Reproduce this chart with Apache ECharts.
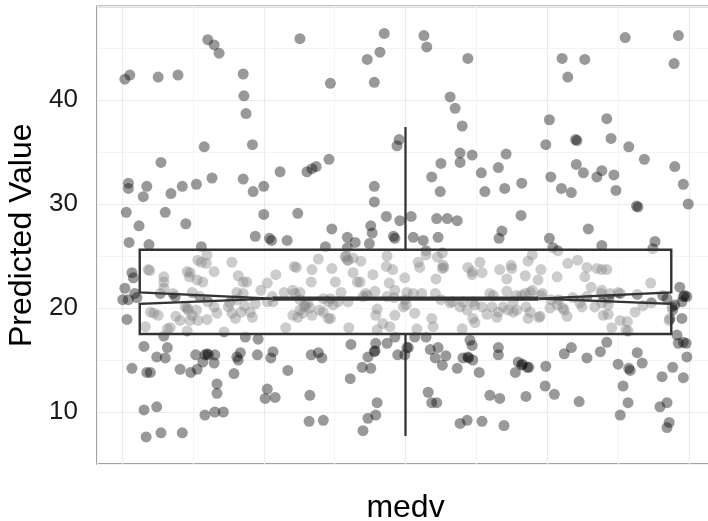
<!DOCTYPE html>
<html><head><meta charset="utf-8">
<script src="https://cdn.jsdelivr.net/npm/echarts@6/dist/echarts.min.js"></script>
<style>html,body{margin:0;padding:0;background:#fff}#c{width:708px;height:521px}</style>
</head><body><div id="c"></div>
<script>
const xName = 'medv';
const yName = 'Predicted Value';
const yTickLabels = [10, 20, 30, 40];
const whiskerEnds = [7.7, 37.4];
const hinges = [17.5, 25.6];
const medianValue = [20.9];
const notchEnds = [20.4, 21.5];
const boxCenter = [1.0];
const boxWidth = [0.75];
// jittered points: [x position, predicted value]
const points = [
[0.604,42.0],[0.611,42.4],[0.651,42.2],[0.679,42.4],[0.721,45.8],[0.730,45.3],[0.737,44.5],[0.771,42.5],[0.772,40.4],[0.775,38.7],
[0.851,45.9],[0.894,41.6],[0.946,43.9],[0.964,44.6],[0.970,46.4],[0.956,41.7],[0.716,35.5],[0.784,35.7],[0.655,34.0],[0.609,32.0],
[0.609,31.5],[0.635,31.7],[0.630,30.7],[0.669,31.0],[0.685,31.7],[0.705,31.9],[0.727,32.5],[0.771,32.4],[0.785,31.2],[0.800,31.7],
[0.823,33.1],[0.861,33.1],[0.868,33.4],[0.874,33.6],[0.892,34.3],[0.988,35.6],[0.991,36.2],[0.956,31.7],[0.956,30.2],[0.606,29.2],
[0.661,29.2],[0.624,27.9],[0.690,28.1],[0.800,29.0],[0.848,29.1],[0.973,28.8],[0.992,28.4],[0.896,27.6],[0.951,27.9],[0.953,27.2],
[0.610,26.3],[0.788,26.9],[0.808,26.7],[0.811,26.5],[0.833,26.5],[0.918,26.8],[0.983,26.9],[0.985,26.7],[0.929,26.3],[0.638,26.1],
[0.712,25.9],[0.887,25.9],[0.949,26.2],[0.918,25.8],[0.915,24.9],[0.918,24.6],
[0.637,23.7],[0.639,23.6],[0.659,23.0],[0.659,22.5],[0.692,23.5],[0.696,23.4],[0.695,23.0],[0.707,24.6],[0.712,24.4],[0.720,25.1],
[0.719,24.3],[0.730,23.5],[0.714,22.5],[0.706,22.7],[0.755,24.4],[0.764,23.1],[0.771,22.5],[0.776,22.5],[0.762,21.5],[0.771,21.4],
[0.796,21.7],[0.805,22.4],[0.817,23.2],[0.829,21.5],[0.841,21.7],[0.844,21.4],[0.851,21.5],[0.843,24.0],[0.846,23.9],[0.867,22.5],
[0.868,23.7],[0.877,24.7],[0.896,23.8],[0.901,22.5],[0.909,21.5],[0.916,25.0],[0.919,24.6],[0.926,24.8],[0.937,24.5],[0.926,23.4],
[0.932,22.5],[0.936,22.5],[0.954,23.2],[0.974,25.0],[0.973,24.0],[0.982,23.7],[0.977,22.4],[0.985,21.7],[0.999,22.9],[0.957,21.6],
[0.946,21.2],[0.940,21.1],[0.812,21.1],[0.805,20.6],[0.813,20.6],[0.762,20.8],[0.750,20.1],[0.752,20.5],[0.788,20.4],[0.781,19.6],
[0.784,19.1],[0.768,19.6],[0.734,19.5],[0.720,18.9],[0.707,18.8],[0.699,19.3],[0.696,18.8],[0.682,18.8],[0.692,20.0],[0.693,19.8],
[0.689,20.1],[0.640,19.6],[0.645,19.5],[0.651,19.3],[0.668,18.1],[0.692,17.8],[0.633,18.2],[0.672,21.4],[0.675,21.1],[0.699,21.5],
[0.710,21.1],[0.721,20.6],[0.744,17.7],[0.831,18.1],[0.841,19.3],[0.848,19.1],[0.855,19.5],[0.868,19.3],[0.879,19.8],[0.891,19.0],
[0.898,20.3],[0.905,20.6],[0.919,20.6],[0.920,18.1],[0.851,20.8],[0.858,20.3],[0.862,20.5],[0.865,20.0],[0.894,20.9],[0.884,20.9],
[0.960,19.9],[0.968,18.5],[0.960,17.9],[0.978,18.2],[0.985,19.3],[0.997,20.1],[0.999,20.8],
[0.659,21.9],[0.654,21.4],[0.944,21.4],[0.974,21.1],[0.984,21.0],[0.958,19.3],[0.851,19.8],[0.858,20.1],[0.884,19.6],[0.894,19.0],
[0.891,20.6],[0.664,18.0],[0.676,19.2],[0.705,19.8],[0.730,20.1],[0.755,19.5],[0.760,19.0],[0.773,20.2],
[0.614,23.4],[0.616,22.9],[0.604,21.9],[0.601,20.8],[0.607,18.9],[0.609,20.8],[0.621,21.0],[0.618,21.4],[0.631,16.3],[0.664,16.2],
[0.661,15.2],[0.649,15.3],[0.614,14.2],[0.635,13.8],[0.640,13.8],[0.659,17.3],[0.682,14.1],[0.697,13.8],[0.706,14.1],[0.704,15.5],
[0.720,15.6],[0.722,15.5],[0.717,15.5],[0.731,15.5],[0.730,14.7],[0.714,14.8],[0.734,12.7],[0.734,11.8],[0.717,9.7],[0.731,10.0],
[0.743,10.0],[0.758,13.7],[0.762,15.3],[0.764,15.0],[0.767,15.7],[0.774,17.2],[0.792,17.0],[0.791,15.5],[0.813,15.8],[0.810,15.2],
[0.834,14.0],[0.805,12.2],[0.802,11.3],[0.816,11.4],[0.865,11.6],[0.864,9.1],[0.884,9.2],[0.867,15.5],[0.877,15.7],[0.882,15.2],
[0.923,16.5],[0.922,13.2],[0.939,14.3],[0.951,14.2],[0.947,15.3],[0.956,15.8],[0.957,15.9],[0.958,16.6],[0.960,10.9],[0.958,9.7],
[0.947,9.4],[0.940,8.2],[0.974,16.6],[0.985,17.2],[0.989,15.5],[0.999,15.5],[1.004,16.2],[0.631,10.2],[0.649,10.5],[0.634,7.6],
[0.655,8.0],[0.685,8.0],
[1.026,46.2],[1.030,45.1],[1.088,44.0],[1.221,44.0],[1.253,43.9],[1.229,42.2],[1.310,46.0],[1.385,46.2],[1.379,43.5],[1.063,40.3],
[1.070,39.2],[1.080,37.5],[1.203,38.1],[1.198,35.7],[1.240,36.2],[1.242,36.1],[1.284,38.2],[1.290,36.3],[1.315,35.5],[1.337,34.3],
[1.380,33.6],[1.392,31.9],[1.399,30.0],[1.077,34.9],[1.077,34.0],[1.094,34.7],[1.050,33.9],[1.037,32.6],[1.049,31.2],[1.107,33.0],
[1.131,33.5],[1.142,34.8],[1.112,31.2],[1.140,31.5],[1.164,32.0],[1.205,32.6],[1.220,31.5],[1.234,31.1],[1.241,33.8],[1.251,33.0],
[1.270,32.6],[1.277,33.2],[1.294,32.8],[1.297,31.3],[1.326,29.8],[1.328,29.7],[1.008,28.8],[1.044,28.6],[1.059,28.6],[1.073,28.4],
[1.163,28.9],[1.136,27.4],[1.132,26.7],[1.011,26.8],[1.025,26.5],[1.046,26.8],[1.203,26.7],[1.258,27.6],[1.352,26.4],
[1.277,26.0],[1.349,25.7],[1.208,25.8],[1.215,25.5],[1.029,25.5],[1.052,25.3],
[1.018,24.4],[1.020,23.9],[1.045,24.9],[1.053,24.1],[1.052,23.8],[1.043,22.8],[1.088,23.9],[1.094,23.5],[1.094,23.2],[1.105,24.4],
[1.108,23.4],[1.133,23.7],[1.143,22.8],[1.149,24.1],[1.150,23.8],[1.169,23.1],[1.173,24.5],[1.179,25.1],[1.187,22.7],[1.191,23.7],
[1.214,23.0],[1.229,24.3],[1.243,24.6],[1.256,23.9],[1.253,23.0],[1.270,23.8],[1.277,23.7],[1.284,23.7],[1.262,22.0],[1.277,21.7],
[1.289,21.4],[1.303,21.4],[1.327,21.3],[1.346,22.4],[1.002,21.5],[1.011,21.4],[1.023,21.4],[1.042,21.4],[1.066,20.6],[1.081,20.6],
[1.098,20.3],[1.119,21.4],[1.124,21.2],[1.143,21.6],[1.152,20.6],[1.164,21.2],[1.176,21.5],[1.193,21.4],[1.204,20.0],[1.222,20.0],
[1.228,19.2],[1.249,20.1],[1.267,20.1],[1.277,20.5],[1.286,20.3],[1.286,19.4],[1.279,19.3],[1.335,20.2],[1.324,19.6],[1.001,20.3],
[1.013,19.5],[1.037,19.0],[1.039,18.2],[1.087,19.8],[1.095,19.0],[1.098,18.6],[1.115,19.4],[1.129,19.1],[1.131,19.6],[1.138,20.1],
[1.145,19.8],[1.152,19.6],[1.157,19.8],[1.173,19.0],[1.176,19.6],[1.190,19.2],[1.016,18.0],[1.080,18.0],[1.303,18.8],[1.313,18.7],
[1.291,18.1],[1.314,17.8],
[1.077,20.1],[1.108,20.1],[1.122,20.1],[1.170,20.1],[1.188,19.1],[1.214,20.3],[1.224,19.8],[1.095,20.6],[1.063,20.5],[1.050,20.8],
[1.156,21.2],[1.169,21.4],[1.179,21.7],[1.191,21.2],[1.205,20.8],[1.216,20.8],[1.236,21.0],[1.256,21.1],[1.246,20.5],[1.029,25.1],
[1.054,23.9],[1.276,21.4],[1.287,20.9],[1.300,21.5],[1.311,17.9],[1.347,20.5],
[1.387,22.0],[1.394,21.2],[1.392,21.1],[1.397,21.1],[1.390,20.6],[1.363,21.2],[1.369,20.9],[1.377,19.8],[1.390,19.0],[1.373,19.0],
[1.372,18.8],[1.380,20.3],[1.376,20.1],[1.383,17.4],[1.385,16.6],[1.392,16.7],[1.396,16.6],[1.397,15.3],[1.392,13.3],[1.377,14.3],
[1.362,13.4],
[1.013,17.2],[1.029,17.2],[1.002,16.2],[1.035,16.0],[1.046,16.2],[1.042,15.2],[1.052,14.5],[1.057,15.4],[1.073,14.2],[1.081,15.2],
[1.088,15.3],[1.089,15.2],[1.094,16.4],[1.095,15.0],[1.091,16.9],[1.104,13.8],[1.131,16.2],[1.131,15.5],[1.155,13.8],[1.159,14.8],
[1.164,14.5],[1.165,14.6],[1.172,14.3],[1.174,14.3],[1.198,14.4],[1.197,12.5],[1.210,11.7],[1.224,15.6],[1.234,16.2],[1.256,15.2],
[1.275,15.8],[1.284,16.7],[1.300,14.6],[1.315,14.2],[1.317,14.0],[1.327,15.7],[1.334,14.7],[1.307,12.5],[1.314,10.9],[1.303,9.7],
[1.119,11.6],[1.133,11.3],[1.170,11.5],[1.245,11.0],[1.032,11.9],[1.037,10.9],[1.044,10.9],[1.077,8.9],[1.087,9.2],[1.108,9.1],
[1.139,8.7],[1.359,10.5],[1.369,10.9],[1.372,9.0],[1.369,8.5]
];

const chart = echarts.init(document.getElementById('c'), null, {renderer: 'canvas'});
const boxRow = [boxCenter[0], boxWidth[0], whiskerEnds[0], hinges[0], notchEnds[0], medianValue[0], notchEnds[1], hinges[1], whiskerEnds[1]];
const option = {
  backgroundColor: '#ffffff',
  animation: false,
  grid: {left: 97, right: -6, top: 6.4, bottom: 57, show: true, borderColor: '#858585', borderWidth: 1.6, backgroundColor: '#ffffff',
    containLabel: false, outerBoundsMode: 'none'},
  xAxis: {
    type: 'value', min: 0.5647, max: 1.4353, splitNumber: 8,
    name: xName, nameLocation: 'middle', nameGap: 28,
    nameTextStyle: {fontFamily: 'Liberation Sans', fontSize: 32, color: '#000'},
    axisLine: {show: false}, axisTick: {show: false}, axisLabel: {show: false},
    splitLine: {show: true, lineStyle: {color: ['#f4f4f4', '#ebebeb'], width: 1.1}}
  },
  yAxis: {
    type: 'value', min: 5, max: 49, interval: 5,
    name: yName, nameLocation: 'middle', nameGap: 51, nameRotate: 90,
    nameTextStyle: {fontFamily: 'Liberation Sans', fontSize: 32, color: '#000'},
    axisLine: {show: false}, axisTick: {show: false},
    axisLabel: {margin: 19, fontFamily: 'Liberation Sans', fontSize: 26, color: '#1a1a1a',
      formatter: v => (yTickLabels.indexOf(v) >= 0 ? String(v) : '')},
    splitLine: {show: true, lineStyle: {color: ['#f4f4f4', '#ebebeb'], width: 1.1}}
  },
  series: [
    {
      type: 'scatter', data: points, symbol: 'circle', symbolSize: 11, z: 2,
      itemStyle: {color: 'rgba(0,0,0,0.5)', borderWidth: 0}, silent: true
    },
    {
      type: 'custom', z: 3, silent: true, data: [boxRow],
      renderItem: function (params, api) {
        const c = api.value(0), hw = api.value(1) / 2;
        const lo = api.value(2), q1 = api.value(3), nl = api.value(4), md = api.value(5), nh = api.value(6), q3 = api.value(7), hi = api.value(8);
        const P = (x, y) => api.coord([x, y]);
        const L = c - hw, R = c + hw, nL = c - hw / 2, nR = c + hw / 2;
        const poly = [P(L, q3), P(R, q3), P(R, nh), P(nR, md), P(R, nl), P(R, q1), P(L, q1), P(L, nl), P(nL, md), P(L, nh)];
        const a = P(c, q3), b = P(c, hi), d = P(c, q1), e = P(c, lo), m1 = P(nL, md), m2 = P(nR, md);
        const ws = {stroke: '#333333', lineWidth: 2.3};
        return {type: 'group', children: [
          {type: 'line', shape: {x1: a[0], y1: a[1], x2: b[0], y2: b[1]}, style: ws},
          {type: 'line', shape: {x1: d[0], y1: d[1], x2: e[0], y2: e[1]}, style: ws},
          {type: 'polygon', shape: {points: poly}, style: {fill: 'rgba(255,255,255,0.5)', stroke: '#333333', lineWidth: 2.4, lineJoin: 'miter'}},
          {type: 'line', shape: {x1: m1[0], y1: m1[1], x2: m2[0], y2: m2[1]}, style: {stroke: '#333333', lineWidth: 4.4}}
        ]};
      }
    }
  ]
};
chart.setOption(option);
</script></body></html>
